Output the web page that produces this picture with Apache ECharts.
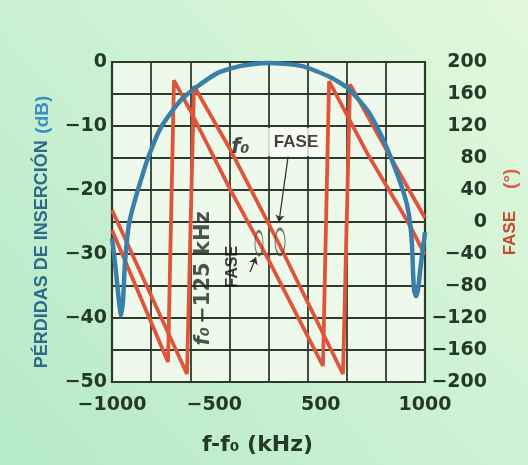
<!DOCTYPE html>
<html><head><meta charset="utf-8">
<script src="https://cdn.jsdelivr.net/npm/echarts@6/dist/echarts.min.js"></script>
<style>html,body{margin:0;padding:0;background:#c9f0d2}#c{width:528px;height:465px}</style>
</head><body><div id="c"></div>
<script>
// ---- data ----
const lossFreq = [-1000,-994,-981,-968,-955,-942,-930,-923,-917,-904,-891,-866,-827,-770,-687,-565,-470,-323,-176,-3,208,380,508,636,719,783,847,885,904,917,923,930,943,955,968,981,994,1000];
const lossDb   = [-27.5,-28.6,-31.3,-34.4,-37.5,-39.6,-37.4,-34.1,-31.3,-27.8,-25.3,-22.7,-19.4,-15,-10.2,-6.1,-4.1,-1.7,-0.6,-0.15,-0.6,-2.2,-4.1,-7.7,-11.4,-15,-19.2,-22.3,-25,-28.6,-32.5,-35.6,-36.6,-35.6,-32.8,-30.2,-27.8,-26.6];

const phaseAFreq = [-1000,-642,-604,-502,-240,-3,348,387,636,891,1000];
const phaseADeg  = [-10,-175,177,140,39,-46,-180,176,84,0,-41];

const phaseBFreq = [-1000,-521,-476,-240,61,476,521,751,1000];
const phaseBDeg  = [15,-190,170,89,-25,-190,172,91,5];

const xTickValues = [-1000,-500,500,1000];
const xTickLabels = ['\u22121000','\u2212500','500','1000'];
const dbTickValues = [0,-10,-20,-30,-40,-50];
const dbTickLabels = ['0','\u221210','\u221220','\u221230','\u221240','\u221250'];
const phaseTickValues = [200,160,120,80,40,0,-40,-80,-120,-160,-200];
const phaseTickLabels = ['200','160','120','80','40','0','\u221240','\u221280','\u2212120','\u2212160','\u2212200'];

// ---- chart ----
const zip = (a,b)=>a.map((v,i)=>[v,b[i]]);
const ink = '#26382a';
const gridInk = '#2d3b2d';
const sans = "'Liberation Sans',Arial,sans-serif";
const dejavu = "'DejaVu Sans',sans-serif";
const tickFont = {fontFamily:dejavu, fontWeight:'bold', fontSize:19, color:ink};

const chart = echarts.init(document.getElementById('c'), null, {renderer:'canvas', width:528, height:465});

const option = {
  animation:false,
  backgroundColor:{type:'linear', x:0, y:1, x2:1, y2:0, colorStops:[
    {offset:0,color:'#b6eac7'},{offset:0.5,color:'#cbf1d3'},{offset:1,color:'#e2f8da'}]},
  grid:{left:112, right:103, top:62, bottom:83, show:true, backgroundColor:'#eef9ec',
        borderColor:gridInk, borderWidth:2.2, containLabel:false, outerBoundsMode:'none'},
  xAxis:{
    type:'value', min:-1000, max:1000, interval:250,
    axisLine:{show:false}, axisTick:{show:false},
    splitLine:{show:true, lineStyle:{color:gridInk, width:1.8}},
    axisLabel:Object.assign({margin:14, showMinLabel:true, showMaxLabel:true,
      formatter:v=>{
        const i = xTickValues.indexOf(v);
        if (i<0) return '';
        const t = xTickLabels[i];
        if (v===-500) return '{l|'+t+'}';
        if (v===500) return '{r|'+t+'}';
        return '{n|'+t+'}';
      },
      rich:{
        n:Object.assign({}, tickFont),
        l:Object.assign({padding:[0,0,0,48]}, tickFont),
        r:Object.assign({padding:[0,52,0,0]}, tickFont)
      }}, tickFont),
    name:'f-f\u2080 (kHz)', nameLocation:'middle', nameGap:52, nameMoveOverlap:false,
    nameTextStyle:{fontFamily:dejavu, fontWeight:'bold', fontSize:22, color:ink, padding:[0,22,0,0]}
  },
  yAxis:[
    {
      type:'value', min:-50, max:0, interval:5, position:'left',
      axisLine:{show:false}, axisTick:{show:false},
      splitLine:{show:true, lineStyle:{color:gridInk, width:1.8}},
      axisLabel:Object.assign({margin:5, showMinLabel:true, showMaxLabel:true,
        formatter:v=>{const i=dbTickValues.indexOf(v); return i<0?'':dbTickLabels[i];}}, tickFont),
      name:'{a|P\u00c9RDIDAS DE INSERCI\u00d3N}  {b|(dB)}', nameLocation:'middle', nameGap:60, nameMoveOverlap:false,
      nameTextStyle:{padding:[0,20,0,0], rich:{
        a:{fontFamily:sans, fontWeight:'bold', fontSize:18, color:'#2e6a8a'},
        b:{fontFamily:sans, fontWeight:'bold', fontSize:19, color:'#3b8fc4'}}}
    },
    {
      type:'value', min:-200, max:200, interval:40, position:'right',
      axisLine:{show:false}, axisTick:{show:false}, splitLine:{show:false},
      axisLabel:Object.assign({margin:62, align:'right', showMinLabel:true, showMaxLabel:true,
        formatter:v=>{const i=phaseTickValues.indexOf(v); return i<0?'':phaseTickLabels[i];}}, tickFont),
      name:'{a|FASE}{b|(\u00b0)}', nameLocation:'middle', nameGap:76, nameMoveOverlap:false,
      nameTextStyle:{padding:[0,0,0,20], rich:{
        a:{fontFamily:sans, fontWeight:'bold', fontSize:17, color:'#c9462f'},
        b:{fontFamily:sans, fontWeight:'bold', fontSize:19, color:'#d8604a', padding:[0,0,0,22]}}}
    }
  ],
  series:[
    {type:'line', name:'FASE f0-125 kHz', xAxisIndex:0, yAxisIndex:1, data:zip(phaseAFreq,phaseADeg),
     symbol:'none', silent:true, z:2, lineStyle:{color:'#e0553a', width:3.8}},
    {type:'line', name:'FASE f0', xAxisIndex:0, yAxisIndex:1, data:zip(phaseBFreq,phaseBDeg),
     symbol:'none', silent:true, z:2, lineStyle:{color:'#e0553a', width:3.8}},
    {type:'line', name:'P\u00e9rdidas de inserci\u00f3n', xAxisIndex:0, yAxisIndex:0, data:zip(lossFreq,lossDb),
     symbol:'none', smooth:0.2, silent:true, z:3, lineStyle:{color:'#3a7fa8', width:4.5}},
    // annotations
    {type:'scatter', xAxisIndex:0, yAxisIndex:0, silent:true, z:6, symbolSize:0,
     data:[
       {value:[-180,-13.4], label:{show:true, position:'inside', formatter:'f\u2080',
         fontFamily:dejavu, fontWeight:'bold', fontStyle:'italic', fontSize:21, color:'#1a1a1a'}},
       {value:[176,-12.5], label:{show:true, position:'inside', formatter:'FASE',
         fontFamily:sans, fontWeight:'bold', fontSize:17, color:'#111',
         backgroundColor:'#fbfdf8', padding:[6,6,5,6]}},
       {value:[-227,-32], label:{show:true, position:'inside', rotate:90, formatter:'FASE',
         fontFamily:sans, fontWeight:'bold', fontSize:16, color:'#111'}},
       {value:[-418,-33.8], label:{show:true, position:'inside', rotate:90,
         formatter:'{i|f\u2080} {n|\u2212125 kHz}',
         rich:{i:{fontFamily:dejavu, fontWeight:'bold', fontStyle:'italic', fontSize:21, color:'#1e2a20'},
               n:{fontFamily:dejavu, fontWeight:'bold', fontSize:21, color:'#1e2a20'}}}}
     ]},
    {type:'scatter', xAxisIndex:0, yAxisIndex:0, silent:true, z:5, symbol:'circle',
     itemStyle:{color:'rgba(0,0,0,0)', borderColor:'#4d4d36', borderWidth:1.6},
     data:[
       {value:[-61,-28.3], symbolSize:[8,24]},
       {value:[74,-28.1], symbolSize:[10,26]}
     ],
     markLine:{silent:true, symbol:['none','arrow'], symbolSize:7, animation:false,
       label:{show:false}, lineStyle:{color:'#333', width:1.3, type:'solid'},
       data:[
         [{coord:[125,-14.8]},{coord:[67,-25]}],
         [{coord:[-118,-32.8]},{coord:[-80,-30.5]}]
       ]}}
  ]
};
chart.setOption(option);
</script></body></html>
